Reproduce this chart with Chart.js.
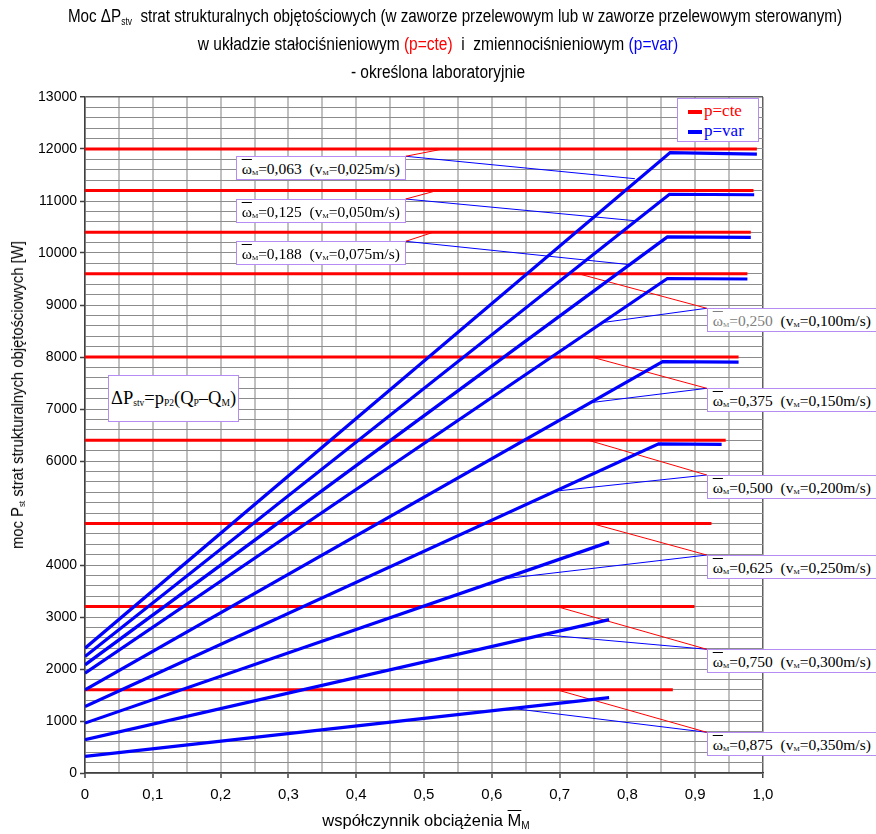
<!DOCTYPE html>
<html>
<head>
<meta charset="utf-8">
<script src="https://cdn.jsdelivr.net/npm/chart.js@4/dist/chart.umd.min.js"></script>
<style>
  html, body { margin:0; padding:0; background:#fff; }
  #wrap { position:relative; width:876px; height:834px; overflow:hidden; }
  #c { position:absolute; left:0; top:0; }
  .ttl { position:absolute; left:0; width:876px; text-align:center; font-family:'Liberation Sans',Arial,sans-serif; font-size:18px; color:#000; white-space:nowrap; line-height:22px; transform:scaleX(0.862); transform-origin:438px 0; }
  .ttl sub { font-size:10px; vertical-align:-3px; }
  .box { position:absolute; background:#fff; border:1px solid #b58cf2; font-family:'Liberation Serif','Times New Roman',serif; font-size:15.5px; color:#000; white-space:nowrap; height:24px; line-height:24px; padding:0 5px 0 5px; box-sizing:border-box; }
  .box sub { font-size:7px; vertical-align:-1px; }
  .ob { text-decoration:overline; }
  #ytitle { position:absolute; left:18px; top:395px; transform:translate(-50%,-50%) rotate(-90deg) scaleX(0.87); font-family:'Liberation Sans',Arial,sans-serif; font-size:17px; white-space:nowrap; }
  #ytitle sub { font-size:9px; vertical-align:-2px; }
  #xtitle { position:absolute; left:-12px; width:876px; top:811px; text-align:center; font-family:'Liberation Sans',Arial,sans-serif; font-size:16.5px; white-space:nowrap; }
  #xtitle sub { font-size:10px; vertical-align:-3px; }
  #legend { position:absolute; background:#fff; border:1px solid #b58cf2; font-family:'Liberation Serif','Times New Roman',serif; font-size:17px; width:82px; height:44px; box-sizing:border-box; }
  #legend div { position:absolute; left:10px; height:20px; line-height:20px; }
  #legend span.ln { display:inline-block; width:14px; height:4px; vertical-align:middle; margin-right:2px; }
  #formula { position:absolute; background:#fff; border:1px solid #b58cf2; font-family:'Liberation Serif','Times New Roman',serif; font-size:18.5px; width:131px; height:47px; line-height:45px; box-sizing:border-box; text-align:center; white-space:nowrap; }
  #formula sub { font-size:9.5px; vertical-align:-2px; }
</style>
</head>
<body>
<div id="wrap">
  <canvas id="c" width="876" height="834"></canvas>
  <div class="ttl" style="top:5px; transform:scaleX(0.845);">Moc ΔP<sub>stv</sub> &nbsp;strat strukturalnych objętościowych (w zaworze przelewowym lub w zaworze przelewowym sterowanym)</div>
  <div class="ttl" style="top:33px;">w układzie stałociśnieniowym <span style="color:#ff0000">(p=cte)</span> &nbsp;i &nbsp;zmiennociśnieniowym <span style="color:#0000ff">(p=var)</span></div>
  <div class="ttl" style="top:61px;">- określona laboratoryjnie</div>
  <div id="ytitle">moc P<sub>st</sub> strat strukturalnych objętościowych [W]</div>
  <div id="xtitle">współczynnik obciążenia <span class="ob">M</span><sub>M</sub></div>
  <div id="legend">
    <div style="top:2px;color:#ff0000"><span class="ln" style="background:#ff0000"></span>p=cte</div>
    <div style="top:22px;color:#0000ff"><span class="ln" style="background:#0000ff"></span>p=var</div>
  </div>
  <div id="formula">ΔP<sub>stv</sub>=p<sub>P2</sub>(Q<sub>P</sub>–Q<sub>M</sub>)</div>
</div>
<script>
// ---------- DATA ----------
const omegaLabels = ['0,063','0,125','0,188','0,250','0,375','0,500','0,625','0,750','0,875'];
const speedLabels = ['0,025','0,050','0,075','0,100','0,150','0,200','0,250','0,300','0,350'];

// p=cte (red) : constant loss levels and the load factor where each line ends
const redLevels = [12000, 11200, 10400, 9600, 8000, 6400, 4800, 3200, 1600];
const redEnds   = [0.991, 0.986, 0.982, 0.977, 0.964, 0.945, 0.924, 0.899, 0.867];

// p=var (blue) : points (load factor, power)
const blueX = [
  [0, 0.863, 0.991],
  [0, 0.862, 0.987],
  [0, 0.859, 0.982],
  [0, 0.859, 0.977],
  [0, 0.852, 0.964],
  [0, 0.846, 0.939],
  [0, 0.773],
  [0, 0.773],
  [0, 0.773]
];
const blueY = [
  [2400, 11930, 11900],
  [2240, 11130, 11120],
  [2080, 10310, 10300],
  [1920, 9510, 9500],
  [1600, 7910, 7900],
  [1280, 6330, 6320],
  [960, 4440],
  [640, 2950],
  [320, 1450]
];

// label boxes: anchor (data coords) and leader targets
const labelSide    = ['left','left','left','right','right','right','right','right','right'];
const labelAnchorX = [0.473, 0.473, 0.473, 0.917, 0.917, 0.917, 0.917, 0.917, 0.917];
const labelAnchorY = [11860, 11038, 10225, 8937, 7398, 5731, 4192, 2379, 783];
const redLeadX  = [0.528, 0.519, 0.514, 0.728, 0.747, 0.742, 0.747, 0.696, 0.696];
const blueLeadX = [0.811, 0.811, 0.804, 0.762, 0.745, 0.700, 0.624, 0.681, 0.629];
const blueLeadY = [11429, 10621, 9775, 8660, 7121, 5429, 3744, 2654, 1244];

// axis tick labels
const xTickLabels = ['0','0,1','0,2','0,3','0,4','0,5','0,6','0,7','0,8','0,9','1,0'];
const yTickLabels = ['0','1000','2000','3000','4000','6000','7000','8000','9000','10000','11000','12000','13000'];

// formula box anchor
const formulaAnchor = [0.034, 7654];

// ---------- BUILD ----------
const RED = '#ff0000', BLUE = '#0000ff';
const datasets = [];
redLevels.forEach((v, i) => {
  datasets.push({ data: [{x:0, y:v}, {x:redEnds[i], y:v}], borderColor: RED, borderWidth: 3, order: 2 });
});
blueX.forEach((xs, i) => {
  datasets.push({ data: xs.map((x, j) => ({x, y: blueY[i][j]})), borderColor: BLUE, borderWidth: 3.2, order: 1 });
});
labelAnchorX.forEach((ax, i) => {
  const ay = labelAnchorY[i];
  datasets.push({ data: [{x:ax, y:ay}, {x:redLeadX[i], y:redLevels[i]}], borderColor: RED, borderWidth: 1, order: 3 });
  datasets.push({ data: [{x:ax, y:ay}, {x:blueLeadX[i], y:blueLeadY[i]}], borderColor: BLUE, borderWidth: 1, order: 3 });
});
datasets.forEach(d => { d.showLine = true; d.pointRadius = 0; d.fill = false; d.tension = 0; d.borderCapStyle = 'butt'; });

// HTML label boxes
const wrap = document.getElementById('wrap');
const boxes = labelAnchorX.map((ax, i) => {
  const el = document.createElement('div');
  el.className = 'box';
  const grey = (i === 3) ? ' style="color:#808080"' : '';
  el.innerHTML = '<span' + grey + '><span class="ob">ω</span><sub>M</sub>=' + omegaLabels[i] + '</span>&nbsp; (v<sub>M</sub>=' + speedLabels[i] + 'm/s)';
  wrap.appendChild(el);
  return el;
});

const overlayPlugin = {
  id: 'overlay',
  afterDraw(chart) {
    const xs = chart.scales.x, ys = chart.scales.y;
    boxes.forEach((el, i) => {
      const px = xs.getPixelForValue(labelAnchorX[i]);
      const py = ys.getPixelForValue(labelAnchorY[i]);
      el.style.top = py + 'px';
      if (labelSide[i] === 'left') { el.style.left = (px - el.offsetWidth) + 'px'; }
      else { el.style.left = px + 'px'; }
    });
    const f = document.getElementById('formula');
    f.style.left = xs.getPixelForValue(formulaAnchor[0]) + 'px';
    f.style.top = ys.getPixelForValue(formulaAnchor[1]) + 'px';
    const lg = document.getElementById('legend');
    lg.style.left = (chart.chartArea.right - 86) + 'px';
    lg.style.top = (chart.chartArea.top + 1) + 'px';
  }
};

Chart.defaults.font.family = "'Liberation Sans', Arial, sans-serif";
Chart.defaults.font.size = 14;
Chart.defaults.color = '#000';

new Chart(document.getElementById('c'), {
  type: 'scatter',
  data: { datasets },
  options: {
    responsive: false,
    animation: false,
    layout: { padding: { left: 0, top: 97, right: 113, bottom: 0 } },
    plugins: { legend: { display: false }, tooltip: { enabled: false } },
    scales: {
      x: {
        type: 'linear', min: 0, max: 1,
        afterFit(s) { s.height = 61; },
        border: { display: true, color: '#404040', width: 1.5 },
        grid: {
          color: c => (c.tick && Math.abs(c.tick.value - 1) < 1e-6) ? '#606060' : '#c0c0c0',
          lineWidth: c => (c.tick && Math.abs(c.tick.value - 1) < 1e-6) ? 1.5 : 2,
          tickLength: 5,
          tickColor: c => (c.tick && Math.round(c.tick.value * 100) % 10 === 0) ? '#404040' : 'rgba(0,0,0,0)',
          tickWidth: 1.5
        },
        ticks: {
          stepSize: 0.05, autoSkip: false, maxRotation: 0, padding: 8,
          font: { size: 15 },
          callback: v => (Math.round(v * 100) % 10 === 0) ? xTickLabels[Math.round(v * 10)] : ''
        }
      },
      y: {
        type: 'linear', min: 0, max: 13000,
        afterFit(s) { s.width = 85; },
        border: { display: true, color: '#404040', width: 1.5 },
        grid: {
          color: c => (c.tick && c.tick.value === 13000) ? '#606060' : '#8c8c8c',
          lineWidth: c => (c.tick && c.tick.value === 13000) ? 1.5 : 1,
          tickLength: 5,
          tickColor: c => (c.tick && yTickLabels.includes(String(c.tick.value))) ? '#404040' : 'rgba(0,0,0,0)',
          tickWidth: 1.5
        },
        ticks: {
          stepSize: 200, autoSkip: false, padding: 3,
          callback: v => yTickLabels.includes(String(v)) ? String(v) : ''
        }
      }
    }
  },
  plugins: [overlayPlugin]
});
</script>
</body>
</html>
